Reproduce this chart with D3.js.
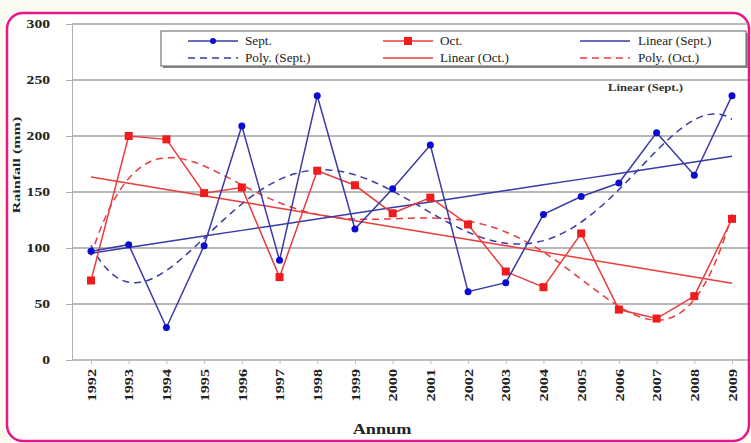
<!DOCTYPE html>
<html>
<head>
<meta charset="utf-8">
<script src="https://cdn.jsdelivr.net/npm/d3@7"></script>
<style>
  body { margin: 0; background: #fbfbf1; }
  svg { display: block; }
  text { font-family: "Liberation Serif", "DejaVu Serif", serif; }
</style>
</head>
<body>
<div id="chart"></div>
<script>
var years = ['1992','1993','1994','1995','1996','1997','1998','1999','2000','2001','2002','2003','2004','2005','2006','2007','2008','2009'];
var sept = [97, 103, 29, 102, 209, 89, 236, 117, 153, 192, 61, 69, 130, 146, 158, 203, 165, 236];
var oct = [71, 200, 197, 149, 154, 74, 169, 156, 131, 145, 121, 79, 65, 113, 45, 37, 57, 126];
var yTicks = [0, 50, 100, 150, 200, 250, 300];

var width = 751, height = 443;
var blue = '#3a3aa8', blueDot = '#0a0ad0';
var red = '#ea3c3c', redDot = '#ee1c1c';

var svg = d3.select('#chart').append('svg').attr('width', width).attr('height', height);

// text in the source picture is a bit stretched along its baseline
function stretch(sel, k) {
  sel.each(function() {
    var w = this.getComputedTextLength();
    d3.select(this).attr('textLength', w * k).attr('lengthAdjust', 'spacingAndGlyphs');
  });
}

// white card with pink rounded border
svg.append('rect')
  .attr('x', 7).attr('y', 13).attr('width', 742).attr('height', 428)
  .attr('rx', 16).attr('fill', '#ffffff')
  .attr('stroke', '#e8168a').attr('stroke-width', 2.5);

var x = d3.scalePoint().domain(years).range([91, 732]);
var y = d3.scaleLinear().domain([0, 300]).range([360, 24]);

// least squares polynomial fit (what the spreadsheet trendline does)
function polyFit(vals, deg) {
  var n = deg + 1;
  var A = [], b = [];
  for (var i = 0; i < n; i++) { A.push(new Array(n).fill(0)); b.push(0); }
  vals.forEach(function(v, k) {
    var t = (k - 8.5) / 8.5;
    for (var i = 0; i < n; i++) {
      b[i] += v * Math.pow(t, i);
      for (var j = 0; j < n; j++) A[i][j] += Math.pow(t, i + j);
    }
  });
  for (var c = 0; c < n; c++) {
    var p = c;
    for (var r = c + 1; r < n; r++) if (Math.abs(A[r][c]) > Math.abs(A[p][c])) p = r;
    var tmp = A[c]; A[c] = A[p]; A[p] = tmp;
    var tb = b[c]; b[c] = b[p]; b[p] = tb;
    for (var r2 = c + 1; r2 < n; r2++) {
      var f = A[r2][c] / A[c][c];
      for (var j2 = c; j2 < n; j2++) A[r2][j2] -= f * A[c][j2];
      b[r2] -= f * b[c];
    }
  }
  var co = new Array(n).fill(0);
  for (var r3 = n - 1; r3 >= 0; r3--) {
    var s = b[r3];
    for (var j3 = r3 + 1; j3 < n; j3++) s -= A[r3][j3] * co[j3];
    co[r3] = s / A[r3][r3];
  }
  return function(k) {
    var t = (k - 8.5) / 8.5, s = 0;
    for (var i = 0; i < n; i++) s += co[i] * Math.pow(t, i);
    return s;
  };
}

// gridlines
svg.append('g').selectAll('line').data(yTicks).enter().append('line')
  .attr('x1', 72).attr('x2', 748)
  .attr('y1', function(d) { return y(d); }).attr('y2', function(d) { return y(d); })
  .attr('stroke', function(d) { return d === 0 ? '#a8a8a8' : '#a0a0a0'; })
  .attr('stroke-width', 1.3);

// y axis
var yAxis = svg.append('g').attr('transform', 'translate(72,0)')
  .call(d3.axisLeft(y).tickValues(yTicks).tickSize(6).tickPadding(16));
yAxis.select('.domain').attr('stroke', '#b0b0b0');
yAxis.selectAll('.tick line').attr('stroke', '#b0b0b0');
yAxis.selectAll('text').attr('font-size', 12).attr('font-weight', 'bold')
  .attr('fill', '#222').style('font-family', '"Liberation Serif", serif')
  .call(stretch, 1.3);

// x axis
var xAxis = svg.append('g').attr('transform', 'translate(0,360)')
  .call(d3.axisBottom(x).tickSize(4).tickPadding(6));
xAxis.select('.domain').remove();
xAxis.selectAll('.tick line').attr('stroke', '#c0c0c0');
xAxis.selectAll('text')
  .attr('font-size', 12).attr('font-weight', 'bold').attr('fill', '#222')
  .style('font-family', '"Liberation Serif", serif')
  .attr('transform', 'rotate(-90)')
  .attr('text-anchor', 'end').attr('dy', '0.35em')
  .attr('x', -9).attr('y', 0)
  .call(stretch, 1.35);

// axis titles
svg.append('text').attr('transform', 'translate(20,165) rotate(-90)')
  .attr('text-anchor', 'middle').attr('font-size', 10).attr('font-weight', 'bold')
  .attr('fill', '#222').text('Rainfall (mm)')
  .call(stretch, 1.6);
svg.append('text').attr('x', 382).attr('y', 434)
  .attr('text-anchor', 'middle').attr('font-size', 14).attr('font-weight', 'bold')
  .attr('fill', '#222').text('Annum')
  .call(stretch, 1.3);

var idx = d3.range(years.length);
var line = d3.line().x(function(d) { return x(years[d.i]); }).y(function(d) { return y(d.v); });
var smooth = d3.line().curve(d3.curveMonotoneX)
  .x(function(d) { return x.range()[0] + d.t * x.step(); }).y(function(d) { return y(d.v); });

function trendLines(vals, color) {
  var lin = polyFit(vals, 1);
  var pol = polyFit(vals, 5);
  svg.append('path')
    .datum(idx.map(function(i) { return { i: i, v: lin(i) }; }))
    .attr('d', line).attr('fill', 'none').attr('stroke', color).attr('stroke-width', 1.5);
  var fine = d3.range(0, 17.01, 0.1).map(function(t) { return { t: t, v: pol(t) }; });
  svg.append('path').datum(fine)
    .attr('d', smooth).attr('fill', 'none').attr('stroke', color)
    .attr('stroke-width', 1.5).attr('stroke-dasharray', '7,5');
}
trendLines(oct, red);
trendLines(sept, blue);

// red Oct series
svg.append('path').datum(oct.map(function(v, i) { return { i: i, v: v }; }))
  .attr('d', line).attr('fill', 'none').attr('stroke', red).attr('stroke-width', 1.5);
svg.append('g').selectAll('rect').data(oct).enter().append('rect')
  .attr('x', function(d, i) { return x(years[i]) - 4; })
  .attr('y', function(d) { return y(d) - 4; })
  .attr('width', 8).attr('height', 8).attr('fill', redDot);

// blue Sept series
svg.append('path').datum(sept.map(function(v, i) { return { i: i, v: v }; }))
  .attr('d', line).attr('fill', 'none').attr('stroke', blue).attr('stroke-width', 1.5);
svg.append('g').selectAll('circle').data(sept).enter().append('circle')
  .attr('cx', function(d, i) { return x(years[i]); })
  .attr('cy', function(d) { return y(d); })
  .attr('r', 3.5).attr('fill', blueDot);

// annotation
svg.append('text').attr('x', 608).attr('y', 91).attr('font-size', 11)
  .attr('font-weight', 'bold').attr('fill', '#333').text('Linear (Sept.)')
  .call(stretch, 1.15);

// legend
var lg = svg.append('g');
lg.append('rect').attr('x', 163).attr('y', 33).attr('width', 585).attr('height', 35)
  .attr('fill', '#888');
lg.append('rect').attr('x', 161).attr('y', 31).attr('width', 585).attr('height', 35)
  .attr('fill', '#fff').attr('stroke', '#777').attr('stroke-width', 1.2);

var legendItems = [
  { label: 'Sept.', color: blue, dash: null, mark: 'circle', col: 0, row: 0 },
  { label: 'Oct.', color: red, dash: null, mark: 'square', col: 1, row: 0 },
  { label: 'Linear (Sept.)', color: blue, dash: null, mark: null, col: 2, row: 0 },
  { label: 'Poly. (Sept.)', color: blue, dash: '7,5', mark: null, col: 0, row: 1 },
  { label: 'Linear (Oct.)', color: red, dash: null, mark: null, col: 1, row: 1 },
  { label: 'Poly. (Oct.)', color: red, dash: '7,5', mark: null, col: 2, row: 1 }
];
var colX = [188, 383, 580];
var item = lg.selectAll('g.item').data(legendItems).enter().append('g')
  .attr('transform', function(d) { return 'translate(' + colX[d.col] + ',' + (41 + d.row * 17) + ')'; });
item.append('line').attr('x1', 0).attr('x2', 50).attr('y1', 0).attr('y2', 0)
  .attr('stroke', function(d) { return d.color; }).attr('stroke-width', 1.5)
  .attr('stroke-dasharray', function(d) { return d.dash; });
item.filter(function(d) { return d.mark === 'circle'; }).append('circle')
  .attr('cx', 25).attr('cy', 0).attr('r', 3).attr('fill', blueDot);
item.filter(function(d) { return d.mark === 'square'; }).append('rect')
  .attr('x', 21).attr('y', -4).attr('width', 8).attr('height', 8).attr('fill', redDot);
item.append('text').attr('x', function(d) { return d.col === 2 ? 58 : 57; }).attr('y', 0).attr('dy', '0.35em')
  .attr('font-size', 12).attr('fill', '#222').text(function(d) { return d.label; })
  .call(stretch, 1.1);
</script>
</body>
</html>
